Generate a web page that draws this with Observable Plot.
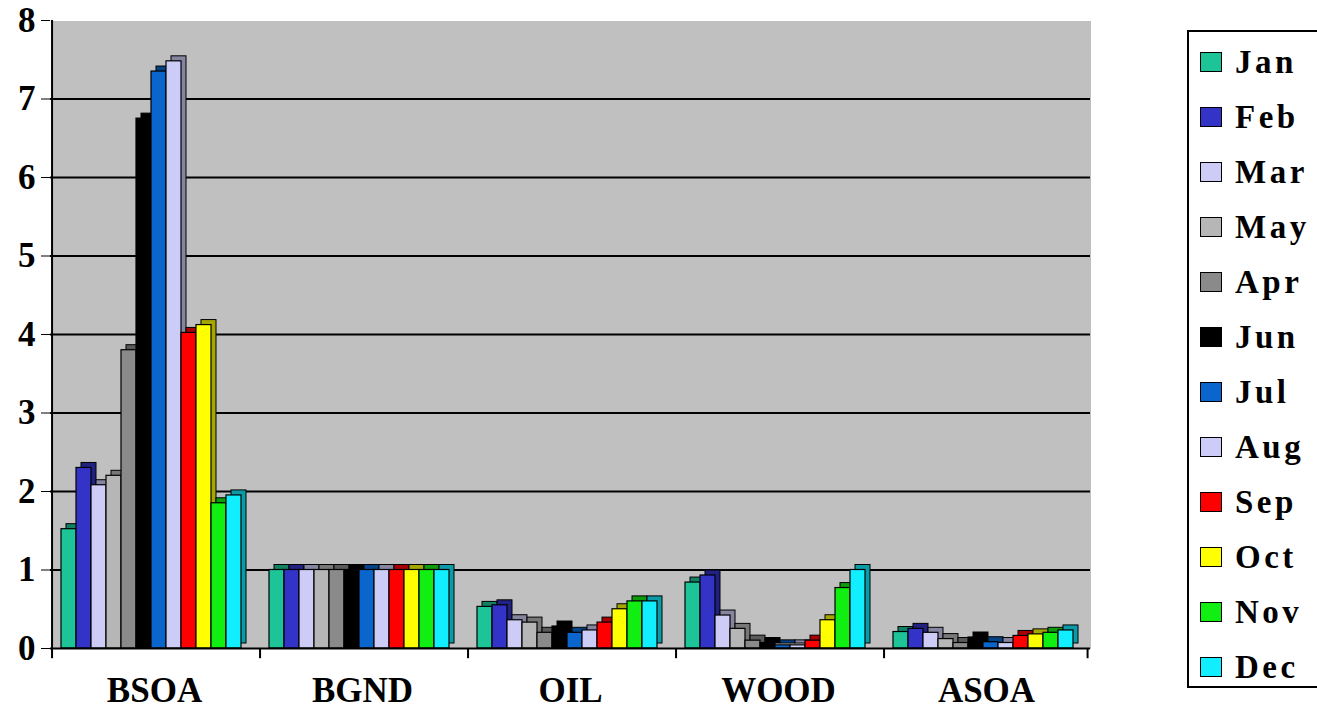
<!DOCTYPE html>
<html>
<head>
<meta charset="utf-8">
<script src="https://cdn.jsdelivr.net/npm/d3@7"></script>
<script src="https://cdn.jsdelivr.net/npm/@observablehq/plot@0.6"></script>
<style>
  body { margin: 0; background: #fff; width: 1317px; height: 709px; overflow: hidden; position: relative;
         font-family: "Liberation Serif", "Times New Roman", serif; }
  #chart { position: absolute; left: 0; top: 0; }
  #legend { position: absolute; left: 1187px; top: 30px; width: 140px; height: 658px;
            border: 2px solid #000; box-sizing: border-box; background: #fff; }
  .item { position: absolute; left: 11px; display: flex; align-items: center; height: 40px; }
  .sw { width: 20px; height: 18px; border: 1.5px solid #000; }
  .lab { font-weight: bold; font-size: 33px; letter-spacing: 3.5px; margin-left: 13px; color: #000; }
</style>
</head>
<body>
<div id="chart"></div>
<div id="legend"></div>
<script>
// Source categories along the bottom axis
const categories = ["BSOA", "BGND", "OIL", "WOOD", "ASOA"];
// Monthly series, in the order they are stacked side by side and listed in the legend
const months = ["Jan", "Feb", "Mar", "May", "Apr", "Jun", "Jul", "Aug", "Sep", "Oct", "Nov", "Dec"];
const monthColors = ["#1cc497", "#3333c8", "#ccccf6", "#b6b6b6", "#8a8a8a", "#000000",
                     "#0a66cc", "#ccccf8", "#ff0000", "#ffff00", "#11ee11", "#11eeff"];

// Values per category, one per month (same order as `months`)
const bsoa = [1.52, 2.30, 2.08, 2.20, 3.80, 6.75, 7.35, 7.48, 4.02, 4.12, 1.85, 1.95];
const bgnd = [1.00, 1.00, 1.00, 1.00, 1.00, 1.00, 1.00, 1.00, 1.00, 1.00, 1.00, 1.00];
const oil  = [0.53, 0.55, 0.36, 0.33, 0.20, 0.28, 0.20, 0.23, 0.33, 0.50, 0.60, 0.60];
const wood = [0.84, 0.93, 0.42, 0.25, 0.10, 0.07, 0.04, 0.04, 0.10, 0.36, 0.77, 1.00];
const asoa = [0.21, 0.25, 0.20, 0.12, 0.07, 0.14, 0.08, 0.07, 0.16, 0.18, 0.20, 0.23];

const yTicks = [0, 1, 2, 3, 4, 5, 6, 7, 8];

const seriesByCategory = {BSOA: bsoa, BGND: bgnd, OIL: oil, WOOD: wood, ASOA: asoa};
const data = categories.flatMap(cat => months.map((m, i) => ({
  cat, month: m, value: seriesByCategory[cat][i],
  color: monthColors[i],
  side: d3.color(monthColors[i]).darker(1.2).formatHex()
})));

// Layout
const W = 1110, H = 709;
const mL = 50, mR = 20, mT = 20, mB = 61;
const padOuter = 0.75, align = 0.4, depth = 5;
// offset from a bar's center to the edge of its category panel
const panelW = (W - mL - mR) / categories.length;
const step = panelW / (months.length + 2 * padOuter);
const startGap = (panelW - step * months.length) * align;
const endGap = panelW - step * months.length - startGap;
const toLeftEdge = -(startGap + step / 2);
const toRightEdge = endGap + step / 2;

const chart = Plot.plot({
  width: W, height: H,
  marginLeft: mL, marginRight: mR, marginTop: mT, marginBottom: mB,
  style: {fontFamily: '"Liberation Serif", "Times New Roman", serif', fontSize: "35px",
          fontWeight: "bold", color: "#000", background: "#fff"},
  fx: {domain: categories, padding: 0, axis: "bottom", label: null, tickSize: 0, tickPadding: 29},
  x: {domain: months, paddingInner: 0, paddingOuter: padOuter, align, axis: null},
  y: {domain: [0, 8], ticks: yTicks, tickSize: 9, tickPadding: 6, label: null, tickFormat: d3.format("d")},
  marks: [
    // back wall
    Plot.frame({fill: "#c0c0c0", shapeRendering: "crispEdges"}),
    Plot.gridY(yTicks.slice(1, -1), {stroke: "#000", strokeOpacity: 1, strokeWidth: 2}),
    // depth faces of the columns
    Plot.barY(data, {fx: "cat", x: "month", y: "value", fill: "side", stroke: "#000",
                     strokeWidth: 1, dx: depth, dy: -depth}),
    // front faces
    Plot.barY(data, {fx: "cat", x: "month", y: "value", fill: "color", stroke: "#000", strokeWidth: 1.2}),
    // category axis line and boundary ticks
    Plot.ruleY([0], {stroke: "#000", strokeWidth: 2}),
    Plot.ruleX(categories, {fx: d => d, x: () => "Jan", dx: toLeftEdge, y1: 0, y2: -0.13,
                            stroke: "#000", strokeWidth: 2}),
    Plot.ruleX(["ASOA"], {fx: d => d, x: () => "Dec", dx: toRightEdge, y1: 0, y2: -0.13,
                          stroke: "#000", strokeWidth: 2}),
    // value axis line
    Plot.ruleX(["BSOA"], {fx: d => d, x: () => "Jan", dx: toLeftEdge, y1: 0, y2: 8,
                          stroke: "#000", strokeWidth: 2})
  ]
});
document.getElementById("chart").appendChild(chart);

// Legend, one row per month
const legend = document.getElementById("legend");
months.forEach((m, i) => {
  const item = document.createElement("div");
  item.className = "item";
  item.style.top = (10 + i * 55) + "px";
  const sw = document.createElement("div");
  sw.className = "sw";
  sw.style.background = monthColors[i];
  const lab = document.createElement("span");
  lab.className = "lab";
  lab.textContent = m;
  item.appendChild(sw);
  item.appendChild(lab);
  legend.appendChild(item);
});
</script>
</body>
</html>
